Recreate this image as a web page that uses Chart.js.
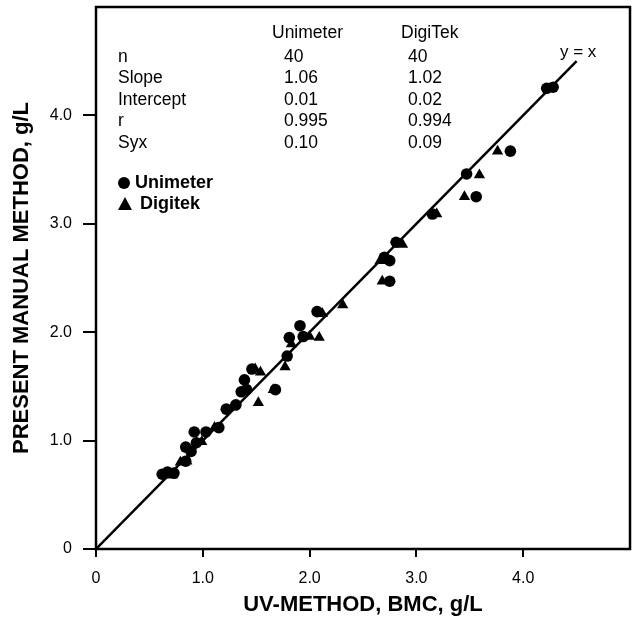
<!DOCTYPE html>
<html>
<head>
<meta charset="utf-8">
<script src="https://cdn.jsdelivr.net/npm/chart.js@4.4.1/dist/chart.umd.min.js"></script>
<style>
  html, body { margin: 0; padding: 0; background: #fff; }
  #wrap { width: 642px; height: 620px; }
</style>
</head>
<body>
<div id="wrap"><canvas id="chart" width="642" height="620"></canvas></div>
<script>
// Values
const unimeterX = [0.62, 0.67, 0.73, 0.84, 0.84, 0.89, 0.94, 0.92, 1.03, 1.15, 1.22, 1.31, 1.36, 1.41, 1.39, 1.46, 1.68, 1.79, 1.81, 1.91, 1.94, 2.07, 2.70, 2.75, 2.75, 2.81, 3.15, 3.47, 3.56, 3.88, 4.22, 4.28];
const unimeterY = [0.69, 0.71, 0.70, 0.81, 0.94, 0.90, 0.98, 1.08, 1.08, 1.12, 1.29, 1.33, 1.45, 1.47, 1.56, 1.66, 1.47, 1.78, 1.95, 2.06, 1.96, 2.19, 2.69, 2.66, 2.47, 2.83, 3.09, 3.46, 3.25, 3.67, 4.25, 4.26];
const digitekX = [0.71, 0.79, 0.85, 0.99, 1.11, 1.28, 1.52, 1.49, 1.54, 1.66, 1.77, 1.83, 2.00, 2.09, 2.12, 2.31, 2.68, 2.66, 2.87, 3.19, 3.45, 3.59, 3.76];
const digitekY = [0.68, 0.80, 0.81, 0.99, 1.12, 1.31, 1.35, 1.66, 1.63, 1.47, 1.68, 1.89, 1.96, 1.95, 2.17, 2.25, 2.47, 2.66, 2.81, 3.09, 3.25, 3.45, 3.67];
const identityEnds = [0, 4.5];
const axisTicks = [0, 1, 2, 3, 4];

const statNames = ["n", "Slope", "Intercept", "r", "Syx"];
const statHeads = ["Unimeter", "DigiTek"];
const unimeterStats = ["40", "1.06", "0.01", "0.995", "0.10"];
const digitekStats = ["40", "1.02", "0.02", "0.994", "0.09"];

const FONT = "'Liberation Sans', Arial, Helvetica, sans-serif";

function toPoints(xs, ys) {
  return xs.map((x, i) => ({ x: x, y: ys[i] }));
}

function tickText(v) {
  return v === 0 ? "0" : v.toFixed(1);
}

// box round the plot, stats table, legend and the y = x label
const figureText = {
  id: "figureText",
  afterDraw(chart) {
    const { ctx, chartArea: a } = chart;
    ctx.save();
    ctx.strokeStyle = "#000";
    ctx.lineWidth = 2.5;
    ctx.strokeRect(a.left, a.top, a.right - a.left, a.bottom - a.top);

    ctx.fillStyle = "#000";
    ctx.textBaseline = "middle";
    ctx.textAlign = "left";
    ctx.font = "17.5px " + FONT;
    ctx.fillText(statHeads[0], 272, 33);
    ctx.fillText(statHeads[1], 401, 33);
    statNames.forEach((name, i) => {
      const y = 57 + i * 21.5;
      ctx.fillText(name, 118, y);
      ctx.fillText(unimeterStats[i], 284, y);
      ctx.fillText(digitekStats[i], 408, y);
    });

    ctx.font = "17px " + FONT;
    ctx.fillText("y = x", 560, 52);

    // legend built from the datasets
    ctx.font = "bold 18px " + FONT;
    chart.data.datasets.slice(0, 2).forEach((ds, i) => {
      const y = 183 + i * 21;
      ctx.beginPath();
      if (ds.pointStyle === "triangle") {
        ctx.moveTo(125, y - 7);
        ctx.lineTo(132, y + 6);
        ctx.lineTo(118, y + 6);
        ctx.closePath();
        ctx.fill();
        ctx.fillText(ds.label, 140, y);
      } else {
        ctx.arc(124, y, 6, 0, Math.PI * 2);
        ctx.fill();
        ctx.fillText(ds.label, 135, y);
      }
    });
    ctx.restore();
  }
};

document.addEventListener("DOMContentLoaded", () => {
  const canvas = document.getElementById("chart");

  new Chart(canvas, {
    type: "scatter",
    data: {
      datasets: [
        {
          label: "Unimeter",
          data: toPoints(unimeterX, unimeterY),
          pointStyle: "circle",
          pointRadius: 5.8,
          backgroundColor: "#000",
          borderColor: "#000",
          borderWidth: 0,
        },
        {
          label: "Digitek",
          data: toPoints(digitekX, digitekY),
          pointStyle: "triangle",
          pointRadius: 6.5,
          backgroundColor: "#000",
          borderColor: "#000",
          borderWidth: 0,
        },
        {
          label: "y = x",
          type: "line",
          data: toPoints(identityEnds, identityEnds),
          borderColor: "#000",
          borderWidth: 2.5,
          pointRadius: 0,
          fill: false,
        },
      ],
    },
    options: {
      responsive: false,
      animation: false,
      layout: { padding: { top: 7, right: 12, left: 0, bottom: 0 } },
      plugins: {
        legend: { display: false },
        tooltip: { enabled: false },
      },
      scales: {
        x: {
          type: "linear",
          min: 0,
          max: 5,
          afterFit: (s) => { s.height = 71; s.paddingLeft = 0; s.paddingRight = 0; },
          afterBuildTicks: (s) => { s.ticks = axisTicks.map((v) => ({ value: v })); },
          border: { display: false },
          grid: { drawOnChartArea: false, drawTicks: true, tickLength: 8, color: "#000", lineWidth: 2 },
          ticks: {
            color: "#000",
            padding: 12,
            font: { family: FONT, size: 16 },
            callback: (v) => tickText(v),
          },
          title: {
            display: true,
            text: "UV-METHOD, BMC, g/L",
            color: "#000",
            font: { family: FONT, size: 22, weight: "bold" },
            padding: { top: 0, bottom: 2 },
          },
        },
        y: {
          type: "linear",
          min: 0,
          max: 5,
          afterFit: (s) => { s.width = 96; s.paddingTop = 0; s.paddingBottom = 0; },
          afterBuildTicks: (s) => { s.ticks = axisTicks.map((v) => ({ value: v })); },
          border: { display: false },
          grid: { drawOnChartArea: false, drawTicks: true, tickLength: 13, color: "#000", lineWidth: 2 },
          ticks: {
            color: "#000",
            padding: 11,
            font: { family: FONT, size: 16 },
            callback: (v) => tickText(v),
          },
          title: {
            display: true,
            text: "PRESENT MANUAL METHOD, g/L",
            color: "#000",
            font: { family: FONT, size: 22, weight: "bold" },
            padding: { top: 9, bottom: 0 },
          },
        },
      },
    },
    plugins: [figureText],
  });
});
</script>
</body>
</html>
